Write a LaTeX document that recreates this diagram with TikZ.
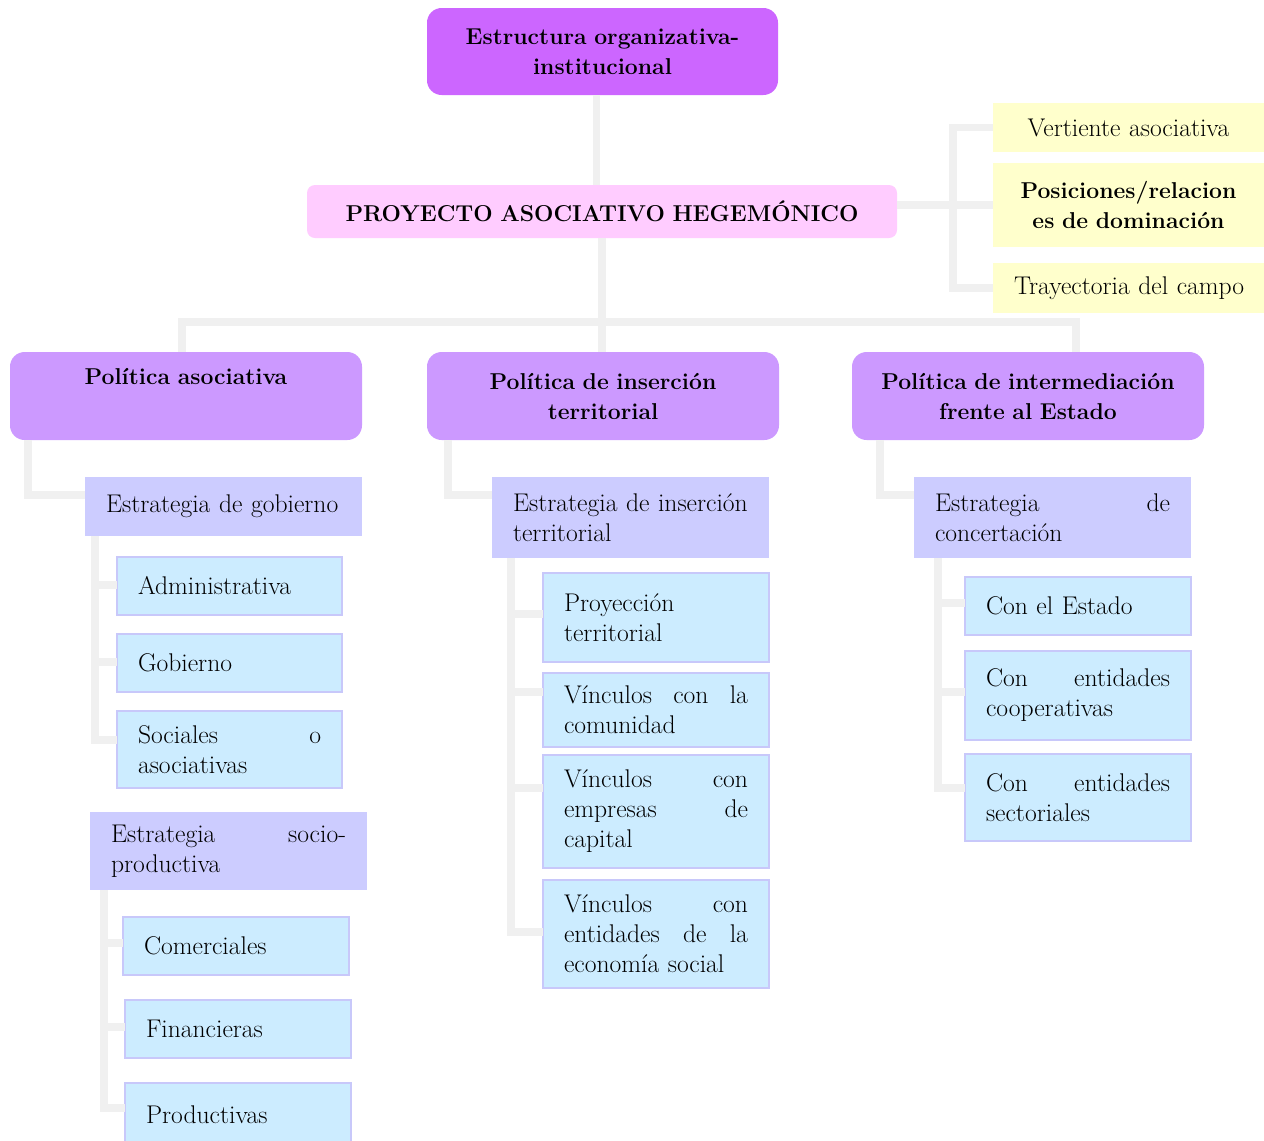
\documentclass[tikz,border=0pt]{standalone}
\usepackage{fontspec}
\usetikzlibrary{calc}

\definecolor{cTop}{HTML}{CC66FF}
\definecolor{cProy}{HTML}{FFCCFF}
\definecolor{cPol}{HTML}{CC99FF}
\definecolor{cYel}{HTML}{FFFFCC}
\definecolor{cEst}{HTML}{CCCCFF}
\definecolor{cLeaf}{HTML}{CCECFF}
\definecolor{cEdge}{HTML}{C8C8FA}
\definecolor{cLine}{HTML}{F0F0F0}

% box given by its corners (in px units), with 21px text padding on each side
\newcommand\placebox[7]{%
  \pgfmathsetmacro\bxw{0.75*(#5-#3)}%
  \pgfmathsetmacro\bxh{0.75*(#6-#4)}%
  \pgfmathsetmacro\bxt{\bxw-31.5}%
  \node[#1, minimum width=\bxw pt, minimum height=\bxh pt, text width=\bxt pt]
    (#2) at ({(#3+#5)/2},{(#4+#6)/2}) {#7};}

\tikzset{
  base/.style={inner sep=0pt, outer sep=0pt, font=\fontsize{19.2}{22.5}\selectfont},
  basebf/.style={base, font=\fontsize{17.2}{22.5}\selectfont\bfseries},
  topbox/.style={basebf, fill=cTop, rounded corners=11pt, align=center},
  proybox/.style={basebf, fill=cProy, rounded corners=6pt, align=center},
  polbox/.style={basebf, fill=cPol, rounded corners=11pt, align=center},
  yelbox/.style={base, fill=cYel, align=center},
  yelbold/.style={basebf, fill=cYel, align=center},
  estbox/.style={base, fill=cEst, align=left},
  leafbox/.style={base, fill=cLeaf, draw=cEdge, line width=1.3pt, align=left},
  conn/.style={draw=cLine, line width=5.5pt},
}

\begin{document}
\begin{tikzpicture}[x=0.75pt, y=-0.75pt]
\useasboundingbox[fill=white] (0,0) rectangle (1264,1140);

% head and central project
\placebox{topbox}{top}{427}{8}{778}{95}{Estructura organizativa-\\institucional}
\placebox{proybox}{proy}{307}{185}{897}{238}{PROYECTO ASOCIATIVO HEGEMÓNICO}

% dimensions of the project
\placebox{yelbox}{yv}{993}{103}{1264}{152}{\mbox{Vertiente asociativa}}
\placebox{yelbold}{yp}{993}{163}{1264}{247}{Posiciones/relacion\\es de dominación}
\placebox{yelbox}{yt}{993}{263}{1264}{313}{\mbox{Trayectoria del campo}}

% policies
\placebox{polbox}{pa}{10}{352}{362}{440}{Política asociativa\\\strut}
\placebox{polbox}{pi}{427}{352}{779}{440}{Política de inserción\\territorial}
\placebox{polbox}{pm}{852}{352}{1204}{440}{Política de intermediación\\frente al Estado}

% associative policy
\placebox{estbox}{eg}{85}{477}{362}{536}{Estrategia de gobierno}
\placebox{leafbox}{adm}{117}{557}{342}{615}{Administrativa}
\placebox{leafbox}{gob}{117}{634}{342}{692}{Gobierno}
\placebox{leafbox}{soc}{117}{711}{342}{788}{Sociales\hfill o\\asociativas}
\placebox{estbox}{esp}{90}{812}{367}{890}{Estrategia\hfill socio-\\productiva}
\placebox{leafbox}{com}{123}{917}{349}{975}{Comerciales}
\placebox{leafbox}{fin}{125}{1000}{351}{1058}{Financieras}
\placebox{leafbox}{pro}{125}{1083}{351}{1147}{Productivas}

% territorial insertion policy
\placebox{estbox}{eit}{492}{477}{769}{558}{Estrategia de inserción\\territorial}
\placebox{leafbox}{pt}{543}{573}{769}{662}{Proyección\\territorial}
\placebox{leafbox}{vc}{543}{673}{769}{747}{Vínculos\hfill con\hfill la\\comunidad}
\placebox{leafbox}{ve}{543}{755}{769}{868}{Vínculos\hfill con\\empresas\hfill de\\capital}
\placebox{leafbox}{vs}{543}{880}{769}{988}{Vínculos\hfill con\\entidades\hfill de\hfill la\\economía social}

% intermediation policy
\placebox{estbox}{ec}{914}{477}{1191}{558}{Estrategia\hfill de\\concertación}
\placebox{leafbox}{ce}{965}{577}{1191}{635}{Con el Estado}
\placebox{leafbox}{cc}{965}{651}{1191}{740}{Con\hfill entidades\\cooperativas}
\placebox{leafbox}{cs}{965}{754}{1191}{841}{Con\hfill entidades\\sectoriales}

% connectors
\draw[conn] ([xshift=-4.5pt]top.south) -- ([xshift=-4.5pt]top.south |- proy.north);
\draw[conn] (proy.south) -- (proy.south |- pi.north);
\coordinate (bus) at (600,322);
\draw[conn] ([xshift=-3pt]pa.north) |- (bus) -| ([xshift=36pt]pm.north);

\coordinate (yb) at (953,205);
\draw[conn] (proy.east |- yb) -- (yp.west |- yb);
\draw[conn] (yb) |- (yv.west);
\draw[conn] (yb) |- (yt.west);

\draw[conn] ([xshift=13.5pt]pa.south west) |- ($(eg.north west)+(0,18)$);
\draw[conn] ([xshift=15.75pt]pi.south west) |- ($(eit.north west)+(0,18)$);
\draw[conn] ([xshift=21pt]pm.south west) |- ($(ec.north west)+(0,18)$);

\foreach \n/\d in {adm/28,gob/28,soc/29}
  \draw[conn] ([xshift=7.5pt]eg.south west) |- ($(\n.north west)+(0,\d)$);
\foreach \n/\d in {com/26,fin/27,pro/25}
  \draw[conn] ([xshift=10.5pt]esp.south west) |- ($(\n.north west)+(0,\d)$);
\foreach \n/\d in {pt/41,vc/19,ve/33,vs/52}
  \draw[conn] ([xshift=14.25pt]eit.south west) |- ($(\n.north west)+(0,\d)$);
\foreach \n/\d in {ce/26,cc/41,cs/34}
  \draw[conn] ([xshift=18pt]ec.south west) |- ($(\n.north west)+(0,\d)$);
\end{tikzpicture}
\end{document}
